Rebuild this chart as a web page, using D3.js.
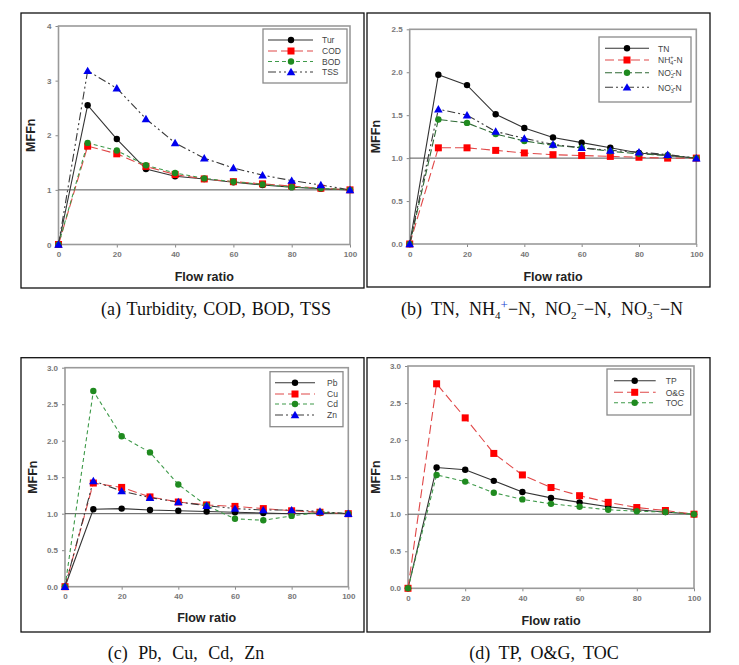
<!DOCTYPE html>
<html><head><meta charset="utf-8">
<script src="https://cdn.jsdelivr.net/npm/d3@7"></script>
<style>body{margin:0;background:#fff}svg{display:block}</style>
</head><body>
<script>
// ---------- DATA ----------
const flowRatio = [0, 10, 20, 30, 40, 50, 60, 70, 80, 90, 100];
const xTicks = [0, 20, 40, 60, 80, 100];

// (a)
const tur = [0, 2.55, 1.93, 1.38, 1.25, 1.20, 1.14, 1.09, 1.05, 1.02, 1.00];
const cod = [0, 1.80, 1.66, 1.43, 1.28, 1.20, 1.15, 1.11, 1.07, 1.03, 1.00];
const bod = [0, 1.86, 1.72, 1.45, 1.31, 1.21, 1.15, 1.10, 1.05, 1.03, 1.00];
const tss = [0, 3.18, 2.86, 2.30, 1.86, 1.58, 1.40, 1.27, 1.17, 1.09, 1.00];
const yTicksA = [0, 1, 2, 3, 4];

// (b)
const tn  = [0, 1.97, 1.85, 1.51, 1.35, 1.24, 1.18, 1.12, 1.06, 1.03, 1.00];
const nh4 = [0, 1.12, 1.12, 1.09, 1.06, 1.04, 1.03, 1.02, 1.01, 1.00, 1.00];
const no2 = [0, 1.45, 1.41, 1.28, 1.20, 1.15, 1.12, 1.08, 1.05, 1.03, 1.00];
const no3 = [0, 1.57, 1.50, 1.31, 1.23, 1.16, 1.12, 1.09, 1.07, 1.04, 1.00];
const yTicksB = [0, 0.5, 1.0, 1.5, 2.0, 2.5];

// (c)
const pb = [0, 1.06, 1.07, 1.05, 1.04, 1.03, 1.02, 1.01, 1.00, 1.01, 1.00];
const cu = [0, 1.42, 1.36, 1.23, 1.16, 1.12, 1.10, 1.07, 1.04, 1.02, 1.00];
const cd = [0, 2.68, 2.06, 1.84, 1.40, 1.11, 0.93, 0.91, 0.97, 1.02, 1.00];
const zn = [0, 1.45, 1.31, 1.22, 1.16, 1.11, 1.07, 1.05, 1.05, 1.03, 1.00];
const yTicksC = [0, 0.5, 1.0, 1.5, 2.0, 2.5, 3.0];

// (d)
const tp  = [0, 1.63, 1.60, 1.45, 1.30, 1.22, 1.16, 1.10, 1.06, 1.03, 1.00];
const og  = [0, 2.76, 2.30, 1.82, 1.53, 1.36, 1.25, 1.16, 1.09, 1.05, 1.00];
const toc = [0, 1.53, 1.44, 1.29, 1.20, 1.14, 1.10, 1.06, 1.04, 1.03, 1.00];
const yTicksD = [0, 0.5, 1.0, 1.5, 2.0, 2.5, 3.0];

// ---------- STYLES ----------
const S = {
  black: {line: "#333", dash: null, marker: "circle", fill: "#000"},
  red:   {line: "#e04848", dash: "9,4", marker: "square", fill: "#f00"},
  green: {line: "#3f9a4a", dash: "4,3", marker: "circle", fill: "#1f8a1f"},
  blue:  {line: "#3a3a3a", dash: "8,3,2,3,2,3", marker: "triangle", fill: "#0000ee"}
};

const panels = [
  {frame: [21, 13, 364, 288], plot: [58.5, 26, 350, 244.5], ymax: 4, yTicks: yTicksA, fmt: d3.format("d"),
   series: [{name: "Tur", v: tur, s: S.black}, {name: "COD", v: cod, s: S.red}, {name: "BOD", v: bod, s: S.green}, {name: "TSS", v: tss, s: S.blue}],
   legend: {box: [263, 29, 347, 83], rows: [40, 51, 61.5, 72], lx: [268, 313], mx: 291, tx: 322},
   yTitleX: 35, xTitleY: 281},
  {frame: [367, 13, 710, 287], plot: [409.7, 29.3, 696.3, 244], ymax: 2.5, yTicks: yTicksB, fmt: d3.format(".1f"),
   series: [{name: "TN", v: tn, s: S.black}, {name: "NH4", v: nh4, s: S.red}, {name: "NO2", v: no2, s: {...S.green, line: "#2f6a35", dash: "7,3"}}, {name: "NO3", v: no3, s: S.blue}],
   legend: {box: [599, 37, 691, 102], rows: [48.3, 60, 72.7, 87.3], lx: [605, 649], mx: 627, tx: 658},
   yTitleX: 380, xTitleY: 281},
  {frame: [21, 357.7, 364, 632], plot: [65, 367.7, 348.3, 586.7], ymax: 3, yTicks: yTicksC, fmt: d3.format(".1f"),
   series: [{name: "Pb", v: pb, s: S.black}, {name: "Cu", v: cu, s: S.red}, {name: "Cd", v: cd, s: S.green}, {name: "Zn", v: zn, s: S.blue}],
   legend: {box: [270, 371.7, 343, 426.7], rows: [382.7, 394, 404, 415], lx: [275, 315], mx: 295, tx: 327},
   yTitleX: 37, xTitleY: 622},
  {frame: [367, 357.7, 710, 632], plot: [408, 366, 694, 588.3], ymax: 3, yTicks: yTicksD, fmt: d3.format(".1f"),
   series: [{name: "TP", v: tp, s: S.black}, {name: "O&G", v: og, s: S.red}, {name: "TOC", v: toc, s: S.green}],
   legend: {box: [607, 369, 690.7, 415], rows: [380.7, 392.3, 402.7], lx: [614, 655.7], mx: 634.7, tx: 665.7},
   yTitleX: 380, xTitleY: 625}
];

const svg = d3.select("body").append("svg").attr("width", 739).attr("height", 665);
svg.append("rect").attr("width", 739).attr("height", 665).attr("fill", "#fff");

function drawMarker(g, type, x, y, fill) {
  if (type === "circle") g.append("circle").attr("cx", x).attr("cy", y).attr("r", 3.2).attr("fill", fill);
  else if (type === "square") g.append("rect").attr("x", x - 3.5).attr("y", y - 3.5).attr("width", 7).attr("height", 7).attr("fill", fill);
  else g.append("path").attr("d", d3.symbol(d3.symbolTriangle, 32)()).attr("transform", `translate(${x},${y + 0.8})`).attr("fill", fill);
}

function legendLabel(t, name) {
  const sub = {NH4: ["NH", "4", "+", "-N"], NO2: ["NO", "2", "-", "-N"], NO3: ["NO", "3", "-", "-N"]}[name];
  if (!sub) { t.text(name); return; }
  t.append("tspan").text(sub[0]);
  t.append("tspan").attr("font-size", 5.5).attr("dy", 2).text(sub[1]);
  t.append("tspan").attr("font-size", 5.5).attr("dx", -3).attr("dy", -6).text(sub[2]);
  t.append("tspan").attr("dy", 4).text(sub[3]);
}

panels.forEach(p => {
  const g = svg.append("g");
  const [fx0, fy0, fx1, fy1] = p.frame;
  g.append("rect").attr("x", fx0).attr("y", fy0).attr("width", fx1 - fx0).attr("height", fy1 - fy0)
    .attr("fill", "none").attr("stroke", "#111").attr("stroke-width", 1.3);
  const [px0, py0, px1, py1] = p.plot;
  const x = d3.scaleLinear().domain([0, 100]).range([px0, px1]);
  const y = d3.scaleLinear().domain([0, p.ymax]).range([py1, py0]);

  const ax = g.append("g").attr("transform", `translate(0,${py1})`)
    .call(d3.axisBottom(x).tickValues(xTicks).tickSize(3).tickPadding(4));
  const ay = g.append("g").attr("transform", `translate(${px0},0)`)
    .call(d3.axisLeft(y).tickValues(p.yTicks).tickFormat(p.fmt).tickSize(3).tickPadding(4));
  [ax, ay].forEach(a => {
    a.select(".domain").remove();
    a.selectAll("line").attr("stroke", "#888");
    a.selectAll("text").attr("font-family", "Liberation Sans, Arial, sans-serif").attr("font-size", 8)
      .attr("font-weight", "bold").attr("fill", "#777");
  });
  g.append("rect").attr("x", px0).attr("y", py0).attr("width", px1 - px0).attr("height", py1 - py0)
    .attr("fill", "none").attr("stroke", "#9a9a9a").attr("stroke-width", 1.6);

  g.append("line").attr("x1", px0).attr("x2", px1).attr("y1", y(1)).attr("y2", y(1))
    .attr("stroke", "#555").attr("stroke-width", 1);

  const line = d3.line().x((d, i) => x(flowRatio[i])).y(d => y(d));
  p.series.forEach(se => {
    g.append("path").datum(se.v).attr("d", line).attr("fill", "none")
      .attr("stroke", se.s.line).attr("stroke-width", 1.1).attr("stroke-dasharray", se.s.dash);
  });
  p.series.forEach(se => {
    se.v.forEach((v, i) => drawMarker(g, se.s.marker, x(flowRatio[i]), y(v), se.s.fill));
  });

  g.append("text").attr("transform", `translate(${p.yTitleX},${(py0 + py1) / 2}) rotate(-90)`)
    .attr("text-anchor", "middle").attr("font-family", "Liberation Sans, Arial, sans-serif")
    .attr("font-weight", "bold").attr("font-size", 12.5).attr("fill", "#222").text("MFFn");
  g.append("text").attr("x", (px0 + px1) / 2).attr("y", p.xTitleY).attr("text-anchor", "middle")
    .attr("font-family", "Liberation Sans, Arial, sans-serif").attr("font-weight", "bold")
    .attr("font-size", 12.5).attr("fill", "#222").text("Flow ratio");

  const L = p.legend;
  g.append("rect").attr("x", L.box[0]).attr("y", L.box[1]).attr("width", L.box[2] - L.box[0]).attr("height", L.box[3] - L.box[1])
    .attr("fill", "#fff").attr("stroke", "#8a8a8a").attr("stroke-width", 1.3);
  p.series.forEach((se, i) => {
    const ry = L.rows[i];
    g.append("line").attr("x1", L.lx[0]).attr("x2", L.lx[1]).attr("y1", ry).attr("y2", ry)
      .attr("stroke", se.s.line).attr("stroke-width", 1.1).attr("stroke-dasharray", se.s.dash);
    drawMarker(g, se.s.marker, L.mx, ry, se.s.fill);
    const t = g.append("text").attr("x", L.tx).attr("y", ry + 3.2).attr("font-family", "Liberation Sans, Arial, sans-serif")
      .attr("font-size", 8.5).attr("fill", "#444");
    legendLabel(t, se.name);
  });
});

// captions
const capFont = "Liberation Serif, 'DejaVu Serif', serif";
function cap(xc, yb, ws) {
  return svg.append("text").attr("x", xc).attr("y", yb).attr("text-anchor", "middle")
    .attr("font-family", capFont).attr("font-size", 18).attr("fill", "#111")
    .style("word-spacing", ws + "px");
}
cap(216, 315, 1.5).text("(a) Turbidity, COD, BOD, TSS");
{
  const t = cap(542, 315, 5);
  t.append("tspan").text("(b) TN, NH");
  t.append("tspan").attr("font-size", 11).attr("dy", 4).text("4");
  t.append("tspan").attr("font-size", 13).attr("dy", -10).attr("fill", "#2040d0").text("+");
  t.append("tspan").attr("dy", 6).text("−N, NO");
  t.append("tspan").attr("font-size", 11).attr("dy", 4).text("2");
  t.append("tspan").attr("font-size", 13).attr("dy", -10).text("−");
  t.append("tspan").attr("dy", 6).text("−N, NO");
  t.append("tspan").attr("font-size", 11).attr("dy", 4).text("3");
  t.append("tspan").attr("font-size", 13).attr("dy", -10).text("−");
  t.append("tspan").attr("dy", 6).text("−N");
}
cap(186, 659, 6).text("(c) Pb, Cu, Cd, Zn");
cap(544, 659, 4).text("(d) TP, O&G, TOC");
</script>
</body></html>
